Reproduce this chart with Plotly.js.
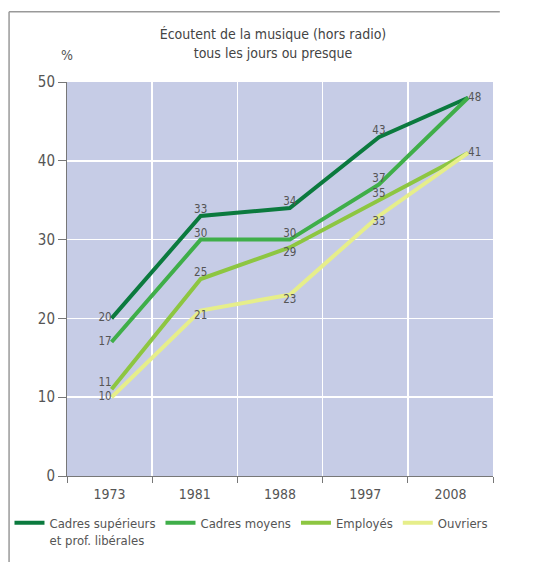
<!DOCTYPE html>
<html><head><meta charset="utf-8">
<script src="https://cdn.plot.ly/plotly-3.0.1.min.js"></script>
<style>html,body{margin:0;padding:0;background:#fff;}#chart{width:546px;height:562px;}</style>
</head><body><div id="chart"></div>
<script>
const years = ['1973', '1981', '1988', '1997', '2008'];
const seriesNames = ['Cadres supérieurs<br>et prof. libérales', 'Cadres moyens', 'Employés', 'Ouvriers'];
const cadresSup = [20, 33, 34, 43, 48];
const cadresMoy = [17, 30, 30, 37, 48];
const employes = [11, 25, 29, 35, 41];
const ouvriers = [10, 21, 23, 33, 41];
const yTicks = [0, 10, 20, 30, 40, 50];

const FONT = '"DejaVu Sans Condensed", "Liberation Sans Narrow", "Roboto", sans-serif';
const colors = ['#0b7a3e', '#3fae49', '#8dc641', '#e6ee8a'];
const positions = [
  ['middle left', 'top center', 'top center', 'top center', 'middle right'],
  ['middle left', 'top center', 'top center', 'top center', 'middle right'],
  ['top left', 'top center', 'bottom center', 'top center', 'middle right'],
  ['middle left', 'bottom center', 'bottom center', 'bottom center', 'middle right']
];
const showLast = [true, false, true, false];
const idx = years.map((_, i) => i);

const traces = [{
  x: years, y: years.map(() => null), xaxis: 'x', yaxis: 'y', type: 'scatter', mode: 'markers',
  showlegend: false, hoverinfo: 'skip'
}].concat([cadresSup, cadresMoy, employes, ouvriers].map((vals, s) => ({
  x: idx,
  y: vals,
  xaxis: 'x2',
  type: 'scatter',
  mode: 'lines+text',
  name: seriesNames[s],
  line: {color: colors[s], width: 4},
  text: vals.map((v, i) => (i === vals.length - 1 && !showLast[s]) ? '' : String(v)),
  textposition: positions[s],
  textfont: {family: FONT, size: 11.5, color: '#555'},
  hoverinfo: 'skip'
})));

const layout = {
  width: 546, height: 562,
  margin: {l: 67, r: 53, t: 82, b: 86, autoexpand: false},
  paper_bgcolor: '#ffffff',
  plot_bgcolor: '#c6cce6',
  font: {family: FONT, color: '#555', size: 14},
  title: {
    text: 'Écoutent de la musique (hors radio)<br>tous les jours ou presque',
    x: 0.5, xref: 'container', y: 0.93, yref: 'container', yanchor: 'top',
    font: {family: FONT, size: 14, color: '#444'}
  },
  xaxis: {
    type: 'category', categoryorder: 'array', categoryarray: years, range: [-0.5, 4.5],
    tickson: 'boundaries', ticks: 'outside', ticklen: 6, tickcolor: '#777',
    ticklabelstandoff: 5,
    showgrid: true, gridcolor: '#ffffff', gridwidth: 1.5, zeroline: false,
    showline: true, linecolor: '#777', linewidth: 1,
    tickfont: {family: FONT, size: 14, color: '#555'},
    automargin: false, fixedrange: true
  },
  xaxis2: {
    overlaying: 'x', range: [-0.5, 4.28], visible: false, fixedrange: true
  },
  yaxis: {
    range: [0, 50], tickmode: 'array', tickvals: yTicks,
    ticks: 'outside', ticklen: 8, tickcolor: '#777',
    showgrid: true, gridcolor: '#ffffff', gridwidth: 1.5, zeroline: false,
    showline: true, linecolor: '#777', linewidth: 1,
    tickfont: {family: FONT, size: 15, color: '#555'},
    automargin: false, fixedrange: true
  },
  showlegend: true,
  legend: {
    orientation: 'h', x: -0.135, xanchor: 'left', y: -0.081, yanchor: 'top',
    font: {family: FONT, size: 13, color: '#555'},
    bgcolor: 'rgba(0,0,0,0)', valign: 'top', traceorder: 'normal', itemwidth: 30,
    tracegroupgap: 0
  },
  annotations: [{
    text: '%', xref: 'paper', yref: 'paper', x: 0, y: 1.068, xanchor: 'center', yanchor: 'middle',
    showarrow: false, font: {family: FONT, size: 14, color: '#555'}
  }],
  shapes: [
    {type: 'line', xref: 'paper', yref: 'paper', x0: -0.136, x1: -0.136, y0: 1.178, y1: -0.22,
     line: {color: '#999', width: 1.5}},
    {type: 'line', xref: 'paper', yref: 'paper', x0: -0.136, x1: 1.016, y0: 1.178, y1: 1.178,
     line: {color: '#999', width: 1.5}}
  ]
};

Plotly.newPlot('chart', traces, layout, {displayModeBar: false, staticPlot: true});
</script></body></html>
